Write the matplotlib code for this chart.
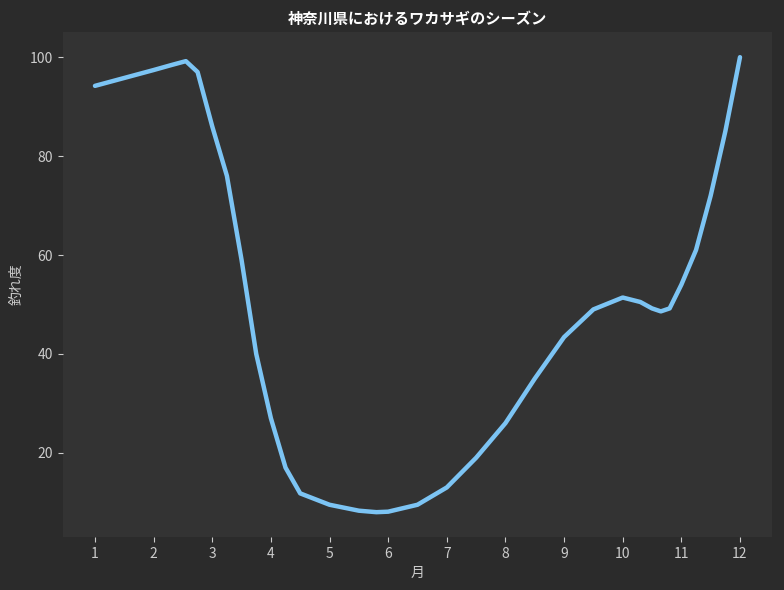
import matplotlib
matplotlib.use("Agg")
import matplotlib.pyplot as plt

plt.rcParams['font.family'] = ['Noto Sans CJK JP', 'DejaVu Sans']

# values
month = [1, 1.5, 2, 2.3, 2.55, 2.75, 3, 3.25, 3.5, 3.75, 4, 4.25, 4.5,
         5, 5.5, 5.8, 6, 6.5, 7, 7.5, 8, 8.5, 9, 9.5, 10, 10.3, 10.5,
         10.65, 10.8, 11, 11.25, 11.5, 11.75, 12]
score = [94.2, 95.8, 97.4, 98.4, 99.2, 97, 86, 76, 59, 40, 27, 17, 11.8,
         9.5, 8.3, 8, 8.1, 9.5, 13, 19, 26, 35, 43.4, 49, 51.4, 50.5, 49.2,
         48.6, 49.2, 54, 61, 72, 85, 100]

fig, ax = plt.subplots(figsize=(7.84, 5.9), dpi=100)
fig.patch.set_facecolor('#2b2b2b')
ax.set_facecolor('#333333')

ax.plot(month, score, color='#7cc4f4', linewidth=3.2, solid_capstyle='round')

ax.set_xlim(0.45, 12.55)
ax.set_ylim(3, 105)
ax.set_xticks(range(1, 13))
ax.set_yticks([20, 40, 60, 80, 100])
for s in ax.spines.values():
    s.set_visible(False)
ax.tick_params(colors='#cccccc', labelsize=10)
ax.set_xlabel('月', color='#cccccc', fontsize=10)
ax.set_ylabel('釣れ度', color='#cccccc', fontsize=10)
ax.set_title('神奈川県におけるワカサギのシーズン', color='white',
             fontsize=11, fontweight='bold')

plt.subplots_adjust(left=0.08, right=0.985, top=0.945, bottom=0.09)
plt.savefig('out.png', facecolor=fig.get_facecolor())
